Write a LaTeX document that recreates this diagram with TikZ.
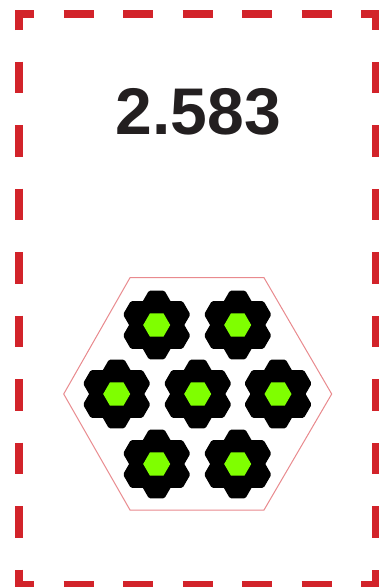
\documentclass[tikz,border=0pt]{standalone}
\usepackage{fontspec}
\setmainfont{Liberation Sans}
\definecolor{cardRed}{HTML}{D2232A}
\definecolor{cardInk}{HTML}{231F20}
\definecolor{cardPink}{HTML}{E98A8E}
\definecolor{cardGreen}{HTML}{7FFF00}
\begin{document}
\begin{tikzpicture}[x=1pt,y=-1pt,line join=miter]
\tikzset{edgedash/.style={draw=cardRed,line width=8pt},hexcell/.style={fill=black,rounded corners=1.5pt},hexcore/.style={fill=cardGreen}}
\path[use as bounding box,fill=white] (0,0) rectangle (379,587);
\clip (0,0) rectangle (379,587);
% corners
\draw[edgedash] (19,30) -- (19,14) -- (34,14); \draw[edgedash] (361,14) -- (376,14) -- (376,30);
\draw[edgedash] (19,569.5) -- (19,585) -- (34,585); \draw[edgedash] (361,585) -- (376,585) -- (376,569.5);
% sides
\foreach \dashx in {63.5,123,182.5,242,301.5} {\draw[edgedash] (\dashx,14) -- ++(30,0); \draw[edgedash] (\dashx,585) -- ++(30,0);}
\foreach \dashy in {61.5,125,188.5,252,315.5,379,442.5,506} {\draw[edgedash] (19,\dashy) -- ++(0,31.5); \draw[edgedash] (376,\dashy) -- ++(0,31.5);}
\node[font=\bfseries\fontsize{66}{66}\selectfont,text=cardInk] (ratio) at (198.5,112) {2.583};
\draw[draw=cardPink,line width=1pt] (130,277.7) -- (264,277.7) -- (331.7,394) -- (264,510) -- (130,510) -- (63.7,394) -- cycle;
\foreach \cx/\cy in {156.7/325,237.7/325,116.7/394,197.7/394,278/394,156.7/464,237.7/464} {
  \foreach \ang in {30,90,...,330} {
    \path[hexcell,shift={(\cx,\cy)},shift={(\ang:21)}] (0:15.5) -- (60:15.5) -- (120:15.5) -- (180:15.5) -- (240:15.5) -- (300:15.5) -- cycle;
  }
  \path[hexcore,shift={(\cx,\cy)}] (0:13.5) -- (60:13.5) -- (120:13.5) -- (180:13.5) -- (240:13.5) -- (300:13.5) -- cycle;
}
\end{tikzpicture}
\end{document}
